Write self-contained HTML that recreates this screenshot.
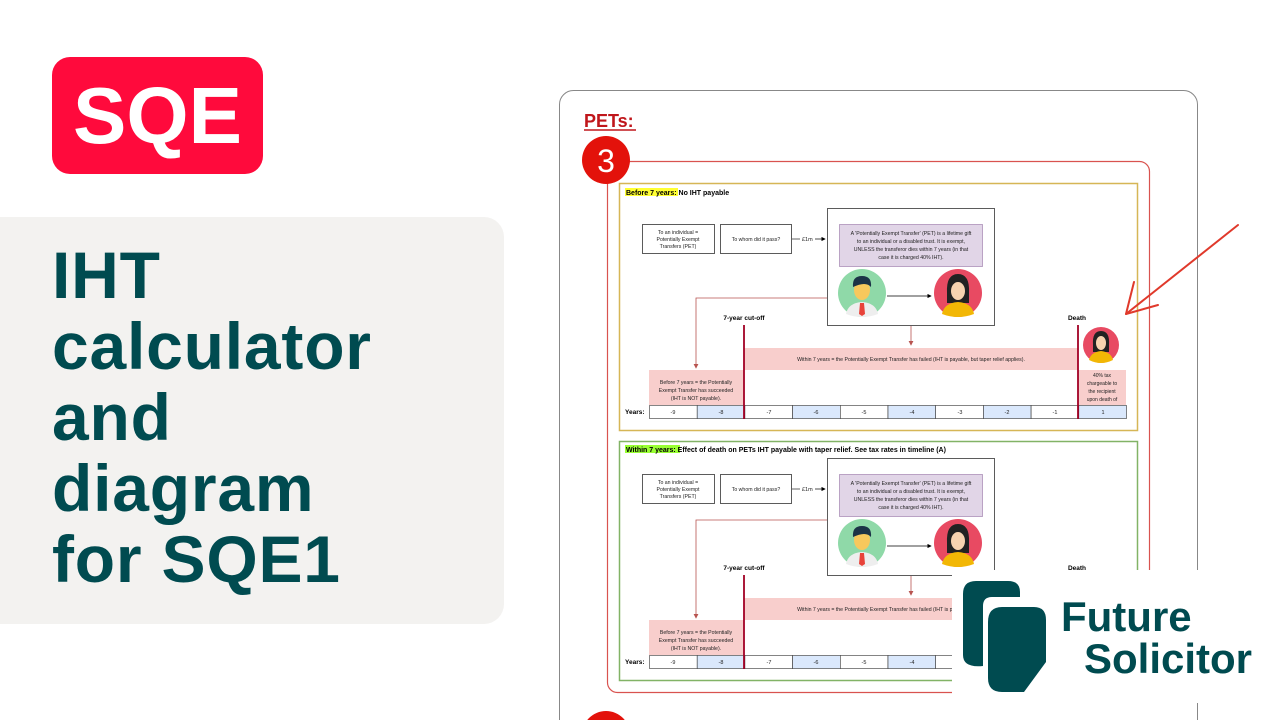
<!DOCTYPE html>
<html><head><meta charset="utf-8"><style>
html,body{margin:0;padding:0;background:#fff;overflow:hidden;width:1280px;height:720px;}
body{position:relative;font-family:"Liberation Sans",sans-serif;}
.sqe{position:absolute;left:52px;top:57px;width:211px;height:117px;background:#ff0a3c;border-radius:18px;color:#fff;font-weight:bold;font-size:80px;line-height:117px;text-align:center;}
.panel{position:absolute;left:-20px;top:217px;width:524px;height:407px;background:#f3f2f0;border-radius:20px;}
.title{position:absolute;left:52px;top:240px;color:#004b50;font-weight:bold;font-size:66px;line-height:71px;letter-spacing:0.8px;}
svg{position:absolute;left:0;top:0;}
</style></head><body>
<div class="sqe">SQE</div>
<div class="panel"></div>
<div class="title">IHT<br>calculator<br>and<br>diagram<br>for SQE1</div>
<svg width="1280" height="720" viewBox="0 0 1280 720" font-family="Liberation Sans, sans-serif">
<defs>
<marker id="ab" markerWidth="6" markerHeight="6" refX="5" refY="3" orient="auto"><path d="M0,0 L6,3 L0,6 z" fill="#000"/></marker>
<marker id="ar" markerWidth="6" markerHeight="6" refX="5" refY="3" orient="auto"><path d="M0,0 L6,3 L0,6 z" fill="#b85450"/></marker>
</defs>
<rect x="559.5" y="90.5" width="638" height="700" rx="14" fill="#fff" stroke="#888" stroke-width="1"/>
<text x="584" y="127" font-size="18" font-weight="bold" fill="#c0161b">PETs:</text>
<line x1="584" y1="130" x2="636" y2="130" stroke="#c0161b" stroke-width="1.5"/>
<rect x="607.5" y="161.5" width="542" height="531" rx="10" fill="none" stroke="#d9534f" stroke-width="1.2"/>
<circle cx="606" cy="160" r="24" fill="#e3120b"/>
<text x="606" y="172" font-size="32" fill="#fff" text-anchor="middle">3</text>
<circle cx="606" cy="735" r="24" fill="#e3120b"/>

<rect x="619.5" y="183.5" width="518" height="247" fill="none" stroke="#d6b656" stroke-width="1.5"/>
<rect x="625" y="188" width="53" height="8" fill="#ffff33"/>
<text x="626" y="195" font-size="7" font-weight="bold">Before 7 years: No IHT payable</text>
<rect x="619.5" y="441.5" width="518" height="239" fill="none" stroke="#82b366" stroke-width="1.5"/>
<rect x="625" y="445" width="55" height="8" fill="#99ff33"/>
<text x="626" y="452" font-size="7" font-weight="bold">Within 7 years: Effect of death on PETs IHT payable with taper relief. See tax rates in timeline (A)</text>

<g>
<rect x="642.5" y="224.5" width="72" height="29" fill="#fff" stroke="#333" stroke-width="0.8"/>
<text font-size="5.2" text-anchor="middle" fill="#222"><tspan x="678" y="234">To an individual =</tspan><tspan x="678" y="241">Potentially Exempt</tspan><tspan x="678" y="248">Transfers (PET)</tspan></text>
<rect x="720.5" y="224.5" width="71" height="29" fill="#fff" stroke="#333" stroke-width="0.8"/>
<text x="756" y="241" font-size="5.2" text-anchor="middle" fill="#222">To whom did it pass?</text>
<line x1="792" y1="239" x2="800" y2="239" stroke="#000" stroke-width="0.6"/>
<text x="802" y="241" font-size="5.5" fill="#222">£1m</text>
<line x1="815" y1="239" x2="825" y2="239" stroke="#000" stroke-width="0.7" marker-end="url(#ab)"/>
<rect x="827.5" y="208.5" width="167" height="117" fill="#fff" stroke="#333" stroke-width="0.8"/>
<rect x="839.5" y="224.5" width="143" height="42" fill="#e1d5e7" stroke="#9673a6" stroke-width="0.6"/>
<text font-size="5.2" text-anchor="middle" fill="#222"><tspan x="911" y="235">A 'Potentially Exempt Transfer' (PET) is a lifetime gift</tspan><tspan x="911" y="243">to an individual or a disabled trust. It is exempt,</tspan><tspan x="911" y="251">UNLESS the transferor dies within 7 years (in that</tspan><tspan x="911" y="259">case it is charged 40% IHT).</tspan></text>
<circle cx="862" cy="293" r="24" fill="#8fd9a8"/>
<path d="M846,314 Q848,303 862,302 Q876,303 878,314 Q870,317 862,317 Q854,317 846,314z" fill="#eee"/>
<path d="M860,303 L864,303 L865,314 L862,316 L859,314z" fill="#e8433a"/>
<ellipse cx="862" cy="290" rx="8" ry="10" fill="#f7c85c"/>
<path d="M853,287 Q852,276 862,276 Q872,276 871,287 Q866,281 853,287z" fill="#1c3346"/>
<circle cx="958" cy="293" r="24" fill="#e84a62"/>
<path d="M947,293 Q946,274 958,274 Q970,274 969,293 L969,303 L947,303z" fill="#222"/>
<path d="M942,314 Q944,303 958,302 Q972,303 974,314 Q966,317 958,317 Q950,317 942,314z" fill="#f2b705"/>
<ellipse cx="958" cy="291" rx="7" ry="9" fill="#f7d3b0"/>
<line x1="887" y1="296" x2="931" y2="296" stroke="#000" stroke-width="0.7" marker-end="url(#ab)"/>
<polyline points="827,298 696,298 696,368" fill="none" stroke="#b85450" stroke-width="0.8" marker-end="url(#ar)"/>
<line x1="911" y1="326" x2="911" y2="345" stroke="#b85450" stroke-width="0.8" marker-end="url(#ar)"/>
<rect x="744" y="348" width="334" height="22" fill="#f8cecc"/>
<text x="911" y="361" font-size="5.2" text-anchor="middle" fill="#222">Within 7 years = the Potentially Exempt Transfer has failed (IHT is payable, but taper relief applies).</text>
<rect x="649" y="370" width="95" height="35" fill="#f8cecc"/>
<text font-size="5.2" text-anchor="middle" fill="#222"><tspan x="696" y="384">Before 7 years = the Potentially</tspan><tspan x="696" y="392">Exempt Transfer has succeeded</tspan><tspan x="696" y="400">(IHT is NOT payable).</tspan></text>
<rect x="1078" y="370" width="48" height="35" fill="#f8cecc"/>
<text font-size="5" text-anchor="middle" fill="#222"><tspan x="1102" y="377">40% tax</tspan><tspan x="1102" y="385">chargeable to</tspan><tspan x="1102" y="393">the recipient</tspan><tspan x="1102" y="401">upon death of</tspan></text>
<circle cx="1101" cy="345" r="18" fill="#e84a62"/>
<path d="M1093,345 Q1092,331 1101,331 Q1110,331 1109,345 L1109,352 L1093,352z" fill="#222"/>
<path d="M1089,360 Q1091,352 1101,351 Q1111,352 1113,360 Q1107,363 1101,363 Q1095,363 1089,360z" fill="#f2b705"/>
<ellipse cx="1101" cy="343" rx="5" ry="7" fill="#f7d3b0"/>
<text x="744" y="320" font-size="6.5" font-weight="bold" text-anchor="middle">7-year cut-off</text>
<text x="1077" y="320" font-size="6.5" font-weight="bold" text-anchor="middle">Death</text>
<text x="625" y="414" font-size="6.5" font-weight="bold">Years:</text>
<g stroke="#333" stroke-width="0.6">
<rect x="649.5" y="405.5" width="47.7" height="13" fill="#fff"/>
<rect x="697.2" y="405.5" width="47.7" height="13" fill="#dae8fc"/>
<rect x="744.9" y="405.5" width="47.7" height="13" fill="#fff"/>
<rect x="792.6" y="405.5" width="47.7" height="13" fill="#dae8fc"/>
<rect x="840.3" y="405.5" width="47.7" height="13" fill="#fff"/>
<rect x="888" y="405.5" width="47.7" height="13" fill="#dae8fc"/>
<rect x="935.7" y="405.5" width="47.7" height="13" fill="#fff"/>
<rect x="983.4" y="405.5" width="47.7" height="13" fill="#dae8fc"/>
<rect x="1031.1" y="405.5" width="47.7" height="13" fill="#fff"/>
<rect x="1078.8" y="405.5" width="47.7" height="13" fill="#dae8fc"/>
</g>
<g font-size="5.5" text-anchor="middle" fill="#222">
<text x="673" y="414">-9</text><text x="721" y="414">-8</text><text x="769" y="414">-7</text><text x="816" y="414">-6</text><text x="864" y="414">-5</text><text x="912" y="414">-4</text><text x="960" y="414">-3</text><text x="1007" y="414">-2</text><text x="1055" y="414">-1</text><text x="1103" y="414">1</text>
</g>
<line x1="744" y1="325" x2="744" y2="419" stroke="#a20025" stroke-width="1.8"/>
<line x1="1078" y1="325" x2="1078" y2="419" stroke="#a20025" stroke-width="1.8"/>
</g>

<g transform="translate(0,250)">
<rect x="642.5" y="224.5" width="72" height="29" fill="#fff" stroke="#333" stroke-width="0.8"/>
<text font-size="5.2" text-anchor="middle" fill="#222"><tspan x="678" y="234">To an individual =</tspan><tspan x="678" y="241">Potentially Exempt</tspan><tspan x="678" y="248">Transfers (PET)</tspan></text>
<rect x="720.5" y="224.5" width="71" height="29" fill="#fff" stroke="#333" stroke-width="0.8"/>
<text x="756" y="241" font-size="5.2" text-anchor="middle" fill="#222">To whom did it pass?</text>
<line x1="792" y1="239" x2="800" y2="239" stroke="#000" stroke-width="0.6"/>
<text x="802" y="241" font-size="5.5" fill="#222">£1m</text>
<line x1="815" y1="239" x2="825" y2="239" stroke="#000" stroke-width="0.7" marker-end="url(#ab)"/>
<rect x="827.5" y="208.5" width="167" height="117" fill="#fff" stroke="#333" stroke-width="0.8"/>
<rect x="839.5" y="224.5" width="143" height="42" fill="#e1d5e7" stroke="#9673a6" stroke-width="0.6"/>
<text font-size="5.2" text-anchor="middle" fill="#222"><tspan x="911" y="235">A 'Potentially Exempt Transfer' (PET) is a lifetime gift</tspan><tspan x="911" y="243">to an individual or a disabled trust. It is exempt,</tspan><tspan x="911" y="251">UNLESS the transferor dies within 7 years (in that</tspan><tspan x="911" y="259">case it is charged 40% IHT).</tspan></text>
<circle cx="862" cy="293" r="24" fill="#8fd9a8"/>
<path d="M846,314 Q848,303 862,302 Q876,303 878,314 Q870,317 862,317 Q854,317 846,314z" fill="#eee"/>
<path d="M860,303 L864,303 L865,314 L862,316 L859,314z" fill="#e8433a"/>
<ellipse cx="862" cy="290" rx="8" ry="10" fill="#f7c85c"/>
<path d="M853,287 Q852,276 862,276 Q872,276 871,287 Q866,281 853,287z" fill="#1c3346"/>
<circle cx="958" cy="293" r="24" fill="#e84a62"/>
<path d="M947,293 Q946,274 958,274 Q970,274 969,293 L969,303 L947,303z" fill="#222"/>
<path d="M942,314 Q944,303 958,302 Q972,303 974,314 Q966,317 958,317 Q950,317 942,314z" fill="#f2b705"/>
<ellipse cx="958" cy="291" rx="7" ry="9" fill="#f7d3b0"/>
<line x1="887" y1="296" x2="931" y2="296" stroke="#000" stroke-width="0.7" marker-end="url(#ab)"/>
<polyline points="827,270 696,270 696,368" fill="none" stroke="#b85450" stroke-width="0.8" marker-end="url(#ar)"/>
<line x1="911" y1="326" x2="911" y2="345" stroke="#b85450" stroke-width="0.8" marker-end="url(#ar)"/>
<rect x="744" y="348" width="334" height="22" fill="#f8cecc"/>
<text x="911" y="361" font-size="5.2" text-anchor="middle" fill="#222">Within 7 years = the Potentially Exempt Transfer has failed (IHT is payable, but taper relief applies).</text>
<rect x="649" y="370" width="95" height="35" fill="#f8cecc"/>
<text font-size="5.2" text-anchor="middle" fill="#222"><tspan x="696" y="384">Before 7 years = the Potentially</tspan><tspan x="696" y="392">Exempt Transfer has succeeded</tspan><tspan x="696" y="400">(IHT is NOT payable).</tspan></text>
<text x="744" y="320" font-size="6.5" font-weight="bold" text-anchor="middle">7-year cut-off</text>
<text x="1077" y="320" font-size="6.5" font-weight="bold" text-anchor="middle">Death</text>
<text x="625" y="414" font-size="6.5" font-weight="bold">Years:</text>
<g stroke="#333" stroke-width="0.6">
<rect x="649.5" y="405.5" width="47.7" height="13" fill="#fff"/>
<rect x="697.2" y="405.5" width="47.7" height="13" fill="#dae8fc"/>
<rect x="744.9" y="405.5" width="47.7" height="13" fill="#fff"/>
<rect x="792.6" y="405.5" width="47.7" height="13" fill="#dae8fc"/>
<rect x="840.3" y="405.5" width="47.7" height="13" fill="#fff"/>
<rect x="888" y="405.5" width="47.7" height="13" fill="#dae8fc"/>
<rect x="935.7" y="405.5" width="47.7" height="13" fill="#fff"/>
</g>
<g font-size="5.5" text-anchor="middle" fill="#222">
<text x="673" y="414">-9</text><text x="721" y="414">-8</text><text x="769" y="414">-7</text><text x="816" y="414">-6</text><text x="864" y="414">-5</text><text x="912" y="414">-4</text>
</g>
<line x1="744" y1="325" x2="744" y2="419" stroke="#a20025" stroke-width="1.8"/>
</g>

<path d="M1238,225 Q1175,275 1126,314" fill="none" stroke="#e0392b" stroke-width="2" stroke-linecap="round"/>
<path d="M1134,282 L1126,314 L1158,305" fill="none" stroke="#e0392b" stroke-width="2" stroke-linecap="round" stroke-linejoin="round"/>

<rect x="952" y="570" width="328" height="133" fill="#fff"/>
<path d="M963,594 Q963,581 976,581 L1008,581 Q1020,581 1020,592 L1020,597 L992,597 Q983,597 983,606 L983,666 Q963,668 963,655z" fill="#004b50"/>
<path d="M988,622 Q988,607 1002,607 L1034,607 Q1046,607 1046,620 L1046,662 L1024,692 L1002,692 Q988,692 988,678z" fill="#004b50"/>
<text x="1061" y="631" font-size="42" font-weight="bold" fill="#004b50">Future</text>
<text x="1084" y="673" font-size="42" font-weight="bold" fill="#004b50">Solicitor</text>
</svg>
</body></html>
